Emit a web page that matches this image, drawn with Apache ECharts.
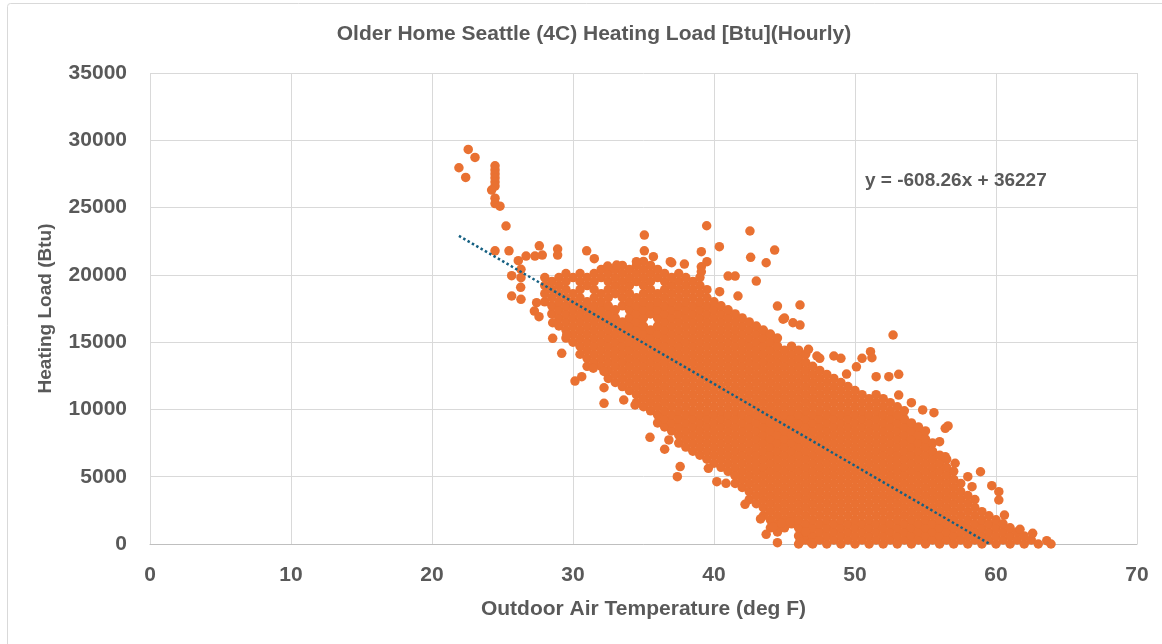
<!DOCTYPE html>
<html>
<head>
<meta charset="utf-8">
<script src="https://cdn.jsdelivr.net/npm/echarts@6/dist/echarts.min.js"></script>
<style>
html,body{margin:0;padding:0;background:#fff;}
#chart{width:1162px;height:644px;}
</style>
</head>
<body>
<div id="chart"></div>
<script>
// ---- Data ----
const chartTitle = 'Older Home Seattle (4C) Heating Load [Btu](Hourly)';
const xAxisName = 'Outdoor Air Temperature (deg F)';
const yAxisName = 'Heating Load (Btu)';
const xTicks = [0, 10, 20, 30, 40, 50, 60, 70];
const yTicks = [0, 5000, 10000, 15000, 20000, 25000, 30000, 35000];
const trendSlope = -608.26;
const trendIntercept = 36227;

// dense body of the cloud, grouped by temperature (deg F) column
const colTemps = [28,28.5,29,29.5,30,30.5,31,31.5,32,32.5,33,33.5,34,34.5,35,35.5,36,36.5,37,37.5,38,38.5,39,39.5,40,40.5,41,41.5,42,42.5,43,43.5,44,44.5,45,45.5,46,46.5,47,47.5,48,48.5,49,49.5,50,50.5,51,51.5,52,52.5,53,53.5,54,54.5,55,55.5,56,56.5,57,57.5,58,58.5,59,59.5,60,60.5,61,61.5,62,62.5,63];
const colLoads = [
[18000,18600,19200,19800],
[17100,17700,18300,18900,19500],
[16200,16800,17400,18000,18600,19200,19800],
[15300,15900,16500,17100,17700,18300,18900,19500,20100],
[15000,15600,16200,16800,17400,18000,18600,19800],
[14100,14700,15300,15900,16500,17100,17700,18300,18900,19500,20100],
[13200,13800,14400,15000,15600,16200,16800,17400,18000,19200,19800],
[13500,14100,14700,15300,15900,16500,17100,17700,18300,18900,19500,20100],
[13200,13800,14400,15000,15600,16200,16800,17400,18000,18600,19800,20400],
[12300,12900,13500,14100,14700,15300,15900,16500,17100,17700,18300,18900,19500,20100],
[12000,12600,13200,13800,14400,15000,15600,16200,16800,17400,18600,19200,19800,20400],
[11700,12300,12900,13500,14100,14700,15300,15900,16500,17700,18300,18900,19500,20100,20700],
[11400,12000,12600,13200,13800,14400,15000,15600,16200,16800,17400,18000,18600,19200,19800,20400],
[10500,11100,11700,12300,12900,13500,14100,14700,15300,15900,16500,17100,17700,18300,19500,20100,20700],
[10200,10800,11400,12000,12600,13200,13800,14400,15000,15600,16200,16800,17400,18000,18600,19200,19800,20400,21000],
[9900,10500,11100,11700,12300,12900,13500,14100,14700,15300,15900,17100,17700,18300,18900,19500,20100,20700],
[9000,9600,10200,10800,11400,12000,12600,13200,13800,14400,15000,15600,16200,16800,17400,18000,18600,19800,20400],
[8700,9300,9900,10500,11100,11700,12300,12900,13500,14100,14700,15300,15900,16500,17100,17700,18300,18900,19500,20100],
[8400,9000,9600,10200,10800,11400,12000,12600,13200,13800,14400,15000,15600,16200,16800,17400,18000,18600,19200,19800],
[7500,8100,8700,9300,9900,10500,11100,11700,12300,12900,13500,14100,14700,15300,15900,16500,17100,17700,18300,18900,19500,20100],
[7200,7800,8400,9000,9600,10200,10800,11400,12000,12600,13200,13800,14400,15000,15600,16200,16800,17400,18000,18600,19200,19800],
[6900,7500,8100,8700,9300,9900,10500,11100,11700,12300,12900,13500,14100,14700,15300,15900,16500,17100,17700,18300,18900,19500],
[6600,7200,7800,8400,9000,9600,10200,10800,11400,12000,12600,13200,13800,14400,15000,15600,16200,16800,17400,18000,18600,19200,19800],
[6300,6900,7500,8100,8700,9300,9900,10500,11100,11700,12300,12900,13500,14100,14700,15300,15900,16500,17100,17700,18300,18900],
[6000,6600,7200,7800,8400,9000,9600,10200,10800,11400,12000,12600,13200,13800,14400,15000,15600,16200,16800,17400,18000],
[5700,6300,6900,7500,8100,8700,9300,9900,10500,11100,11700,12300,12900,13500,14100,14700,15300,15900,16500,17100,17700],
[5400,6000,6600,7200,7800,8400,9000,9600,10200,10800,11400,12000,12600,13200,13800,14400,15000,15600,16200,16800,17400],
[4500,5100,5700,6300,6900,7500,8100,8700,9300,9900,10500,11100,11700,12300,12900,13500,14100,14700,15300,15900,16500,17100],
[4200,4800,5400,6000,6600,7200,7800,8400,9000,9600,10200,10800,11400,12000,12600,13200,13800,14400,15000,15600,16200,16800],
[3300,3900,4500,5100,5700,6300,6900,7500,8100,8700,9300,9900,10500,11100,11700,12300,12900,13500,14100,14700,15300,15900,16500],
[3000,3600,4200,4800,5400,6000,6600,7200,7800,8400,9000,9600,10200,10800,11400,12000,12600,13200,13800,14400,15000,15600,16200],
[2100,2700,3300,3900,4500,5100,5700,6300,6900,7500,8100,8700,9300,9900,10500,11100,11700,12300,12900,13500,14100,14700,15300,15900],
[1200,1800,2400,3000,3600,4200,4800,5400,6000,6600,7200,7800,8400,9000,9600,10200,10800,11400,12000,12600,13200,13800,14400,15000,15600],
[900,1500,2100,2700,3300,3900,4500,5100,5700,6300,6900,7500,8100,8700,9300,9900,10500,11100,11700,12300,12900,13500,14100,14700,15300],
[1200,1800,2400,3000,3600,4200,4800,5400,6000,6600,7200,7800,8400,9000,9600,10200,10800,11400,12000,12600,13200,13800,14400],
[1500,2100,2700,3300,3900,4500,5100,5700,6300,6900,7500,8100,8700,9300,9900,10500,11100,11700,12300,12900,13500,14100,14700],
[0,600,1200,1800,2400,3000,3600,4200,4800,5400,6000,6600,7200,7800,8400,9000,9600,10200,10800,11400,12000,12600,13200,13800,14400],
[300,900,1500,2100,2700,3300,3900,4500,5100,5700,6300,6900,7500,8100,8700,9300,9900,10500,11100,11700,12300,12900,13500,14100],
[0,600,1200,1800,2400,3000,3600,4200,4800,5400,6000,6600,7200,7800,8400,9000,9600,10200,10800,11400,12000,12600,13200],
[300,900,1500,2100,2700,3300,3900,4500,5100,5700,6300,6900,7500,8100,8700,9300,9900,10500,11100,11700,12300,12900],
[0,600,1200,1800,2400,3000,3600,4200,4800,5400,6000,6600,7200,7800,8400,9000,9600,10200,10800,11400,12000,12600],
[300,900,1500,2100,2700,3300,3900,4500,5100,5700,6300,6900,7500,8100,8700,9300,9900,10500,11100,11700,12300],
[0,600,1200,1800,2400,3000,3600,4200,4800,5400,6000,6600,7200,7800,8400,9000,9600,10200,10800,11400,12000],
[300,900,1500,2100,2700,3300,3900,4500,5100,5700,6300,6900,7500,8100,8700,9300,9900,10500,11100,11700],
[0,600,1200,1800,2400,3000,3600,4200,4800,5400,6000,6600,7200,7800,8400,9000,9600,10200,10800,11400],
[300,900,1500,2100,2700,3300,3900,4500,5100,5700,6300,6900,7500,8100,8700,9300,9900,10500,11100],
[0,600,1200,1800,2400,3000,3600,4200,4800,5400,6000,6600,7200,7800,8400,9000,9600,10200,10800],
[300,900,1500,2100,2700,3300,3900,4500,5100,5700,6300,6900,7500,8100,8700,9300,9900,10500,11100],
[0,600,1200,1800,2400,3000,3600,4200,4800,5400,6000,6600,7200,7800,8400,9000,9600,10200,10800],
[300,900,1500,2100,2700,3300,3900,4500,5100,5700,6300,6900,7500,8100,8700,9300,9900,10500],
[0,600,1200,1800,2400,3000,3600,4200,4800,5400,6000,6600,7200,7800,8400,9000,9600,10200],
[300,900,1500,2100,2700,3300,3900,4500,5100,5700,6300,6900,7500,8100,8700,9300,9900],
[0,600,1200,1800,2400,3000,3600,4200,4800,5400,6000,6600,7200,7800,8400,9000],
[300,900,1500,2100,2700,3300,3900,4500,5100,5700,6300,6900,7500,8100,8700],
[0,600,1200,1800,2400,3000,3600,4200,4800,5400,6000,6600,7200,7800,8400],
[300,900,1500,2100,2700,3300,3900,4500,5100,5700,6300,6900,7500],
[0,600,1200,1800,2400,3000,3600,4200,4800,5400,6000,6600],
[300,900,1500,2100,2700,3300,3900,4500,5100,5700,6300],
[0,600,1200,1800,2400,3000,3600,4200,4800,5400],
[300,900,1500,2100,2700,3300,3900,4500],
[0,600,1200,1800,2400,3000,3600],
[300,900,1500,2100,2700,3300],
[0,600,1200,1800,2400],
[300,900,1500,2100],
[0,600,1200,1800],
[300,900,1500],
[0,600,1200],
[300,900],
[0,600],
[300],
[0]
];

// scattered points at the edges of the cloud
const extraTemps = [22.57,23.05,21.91,22.39,24.47,24.47,24.47,24.47,24.47,24.47,24.23,24.47,24.47,24.82,25.25,24.47,25.46,27.61,28.91,28.91,30.97,31.51,32.46,33.1,26.12,26.67,27.3,27.82,25.65,26.31,26.31,26.29,25.65,26.31,27.42,27.26,27.59,28.56,28.56,29.55,29.2,30.14,30.62,32.2,32.2,32.2,31.44,33.6,34.4,35.46,36.5,36.8,37.6,37.4,39.6,40.2,40.85,41.5,42.2,43.3,43.7,44.5,46.1,46.9,44.2,44.8,45.4,46.5,35.06,35.06,39.48,40.38,42.55,42.6,43.7,44.3,41.0,41.5,43.0,41.7,44.5,46.1,44.9,45.6,46.1,46.7,47.3,48.5,49.0,50.5,51.1,51.2,52.7,50.1,51.5,52.4,53.1,54.0,47.5,49.4,53.1,54.8,55.6,56.6,56.4,56.0,56.4,57.1,58.9,58.0,58.3,59.7,60.2,60.2,60.6,61.7,62.6,63.6,63.9,39.1,39.5,39.1,39.1,37.9,37.0,40.4,45.0,36.9,35.7,34.5];
const extraLoads = [29320,28730,27960,27240,28100,27800,27500,27200,26900,26600,26300,25700,25300,25100,23630,21790,21790,22160,21920,21470,21790,21200,20650,20730,21050,21400,21400,21470,19940,20410,19790,19070,18430,18180,17930,17310,16890,16440,15280,15530,14170,12110,12430,12820,11610,10450,13060,10700,10330,7930,7040,7730,5750,5000,5620,4630,4510,5080,2950,1860,720,100,170,100,1290,1540,1660,910,22960,21790,23650,22090,23260,21300,20900,21840,19910,19910,19540,18430,17680,17760,16700,16440,16270,14470,13970,13970,13800,13800,14290,13840,15530,13170,12430,12430,12610,10500,13800,12630,11070,9960,9760,8770,8600,7600,6490,6000,5370,5000,4260,4330,3890,3270,2150,1090,790,250,0,21720,20980,20600,20230,20800,20900,18750,16790,20980,21350,20980];

// ---- Build series data ----
const points = [];
colTemps.forEach((t, i) => colLoads[i].forEach(v => points.push([t, v])));
extraTemps.forEach((t, i) => points.push([t, extraLoads[i]]));

const xMinData = Math.min(...points.map(p => p[0]));
const xZero = -trendIntercept / trendSlope;
const trendData = [
  [xMinData, trendSlope * xMinData + trendIntercept],
  [xZero, 0]
];

const textColor = '#595959';
const fontFam = '"Liberation Sans", Arial, sans-serif';

const chart = echarts.init(document.getElementById('chart'), null, {renderer: 'canvas'});
chart.setOption({
  animation: false,
  backgroundColor: '#ffffff',
  grid: {left: 150, right: 25, top: 73, bottom: 100, containLabel: false},
  xAxis: {
    type: 'value', min: xTicks[0], max: xTicks[xTicks.length - 1], interval: 10,
    name: xAxisName, nameLocation: 'middle', nameGap: 55,
    nameTextStyle: {color: textColor, fontFamily: fontFam, fontWeight: 'bold', fontSize: 21},
    axisLine: {show: true, lineStyle: {color: '#BFBFBF', width: 1}},
    axisTick: {show: false},
    axisLabel: {color: textColor, fontFamily: fontFam, fontWeight: 'bold', fontSize: 21, margin: 21,
      formatter: v => String(v)},
    splitLine: {show: true, lineStyle: {color: '#D9D9D9', width: 1}}
  },
  yAxis: {
    type: 'value', min: yTicks[0], max: yTicks[yTicks.length - 1], interval: 5000,
    name: yAxisName, nameLocation: 'middle', nameGap: 95, nameRotate: 90,
    nameTextStyle: {color: textColor, fontFamily: fontFam, fontWeight: 'bold', fontSize: 19},
    axisLine: {show: false},
    axisTick: {show: false},
    axisLabel: {color: textColor, fontFamily: fontFam, fontWeight: 'bold', fontSize: 21, margin: 23,
      formatter: v => String(v)},
    splitLine: {show: true, lineStyle: {color: '#D9D9D9', width: 1}}
  },
  graphic: [
    {type: 'rect', shape: {x: 7.5, y: 3.5, width: 1200, height: 700, r: 3}, style: {fill: 'none', stroke: '#D9D9D9', lineWidth: 1}, silent: true, z: -10},
    {type: 'text', x: 594, y: 34, style: {text: chartTitle, fill: textColor, font: 'bold 21px ' + fontFam, textAlign: 'center', textVerticalAlign: 'middle'}},
    {type: 'text', x: 865, y: 181, style: {text: 'y = ' + trendSlope + 'x + ' + trendIntercept, fill: textColor, font: 'bold 19px ' + fontFam, textAlign: 'left', textVerticalAlign: 'middle'}, z: 10}
  ],
  series: [
    {
      type: 'scatter', data: points, symbol: 'circle', symbolSize: 9.5,
      itemStyle: {color: '#E97132', opacity: 1}, z: 2, clip: false, large: false
    },
    {
      type: 'line', data: trendData, symbol: 'none', showSymbol: false, z: 5,
      lineStyle: {color: '#156082', width: 2.5, type: [2.5, 2.5]}
    }
  ]
});
</script>
</body>
</html>
